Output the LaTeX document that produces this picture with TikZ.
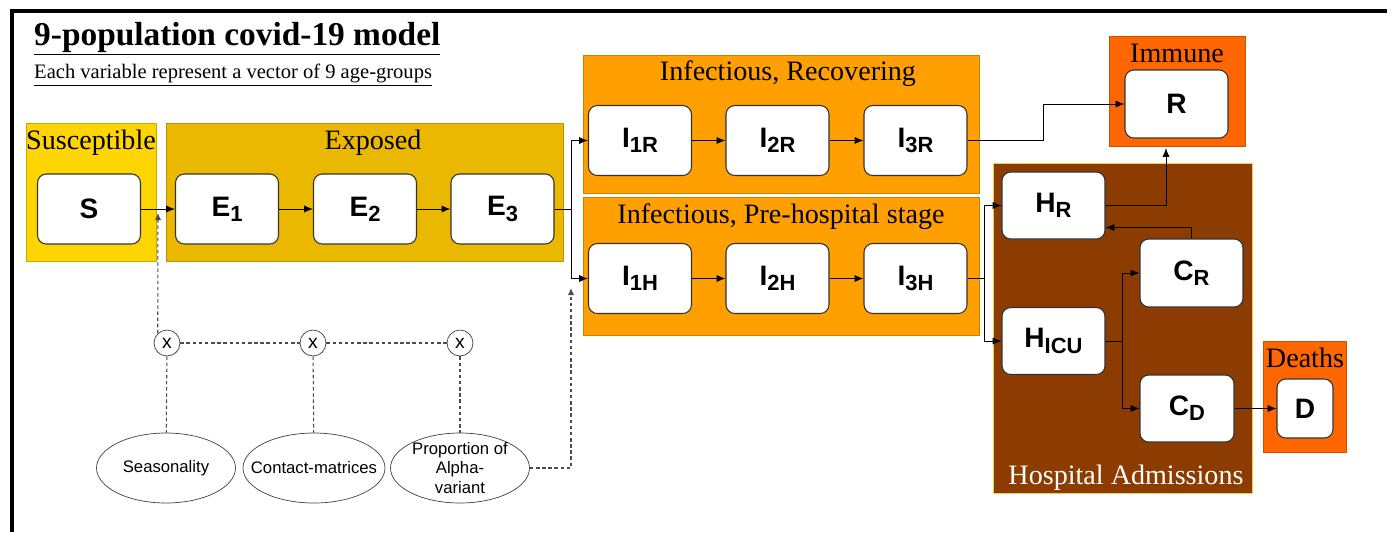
\documentclass[tikz,border=0pt]{standalone}
\usepackage{fontspec}
\setmainfont{Liberation Serif}
\setsansfont{Liberation Sans}
\usepackage{xcolor}
\usepackage{tikz}
\usetikzlibrary{arrows.meta, positioning, shapes.geometric, calc}
\definecolor{suscol}{HTML}{FFD500}
\definecolor{expcol}{HTML}{EBB800}
\definecolor{infcol}{HTML}{FFA000}
\definecolor{endcol}{HTML}{FF6600}
\definecolor{hospcol}{HTML}{8C3C00}
\newcommand{\idx}[1]{\raisebox{-3pt}{\fontsize{12.5}{12.5}\selectfont #1}}

\begin{document}
\begin{tikzpicture}[
      x=0.02cm, y=-0.02cm,
      box/.style={draw=black!80, fill=white, rounded corners=5pt, line width=0.6pt, minimum width=2.06cm, minimum height=1.4cm, inner sep=0pt, font=\sffamily\bfseries\fontsize{16}{16}\selectfont},
      grp/.style={fill=#1, draw=#1!80!black, line width=0.5pt, inner sep=0pt},
      lbl/.style={anchor=base, font=\fontsize{16}{18}\selectfont},
      arr/.style={-{Latex[length=5pt,width=4pt]}, line width=0.5pt},
      dots/.style={dash pattern=on 2pt off 1.5pt, line width=0.6pt, black!70},
      mult/.style={circle, draw=black!75, fill=white, minimum size=0.52cm, inner sep=0pt, font=\sffamily\fontsize{11}{11}\selectfont},
      src/.style={ellipse, draw=black!75, minimum width=2.78cm, minimum height=1.4cm, inner sep=0pt, label={[align=center, font=\sffamily\fontsize{9.5}{11}\selectfont]center:#1}}
    ]
      \useasboundingbox (0,0) rectangle (1394,532);
      \draw[line width=2.3pt] (1387,11) -- (12,11) -- (12,532);

      \node[anchor=base west, font=\bfseries\fontsize{19}{22}\selectfont] (title) at (28,45) {\underline{9-population covid-19 model}};
      \node[anchor=base west, font=\fontsize{11.7}{14}\selectfont] (subtitle) at (28,78) {\underline{Each variable represent a vector of 9 age-groups}};

      \node[grp=suscol, minimum width=2.6cm, minimum height=2.76cm] (susc) at (91,192) {};
      \node[grp=expcol, minimum width=7.94cm, minimum height=2.76cm] (expo) at (364.5,192) {};
      \node[grp=infcol, minimum width=7.92cm, minimum height=2.76cm] (infR) at (781,124) {};
      \node[grp=infcol, minimum width=7.92cm, minimum height=2.76cm] (infH) at (781,266) {};
      \node[grp=endcol, minimum width=2.72cm, minimum height=2.2cm] (immune) at (1177,91) {};
      \node[grp=hospcol, draw=expcol!70, minimum width=5.18cm, minimum height=6.6cm] (hosp) at (1122.5,328) {};
      \node[grp=endcol, minimum width=1.66cm, minimum height=2.22cm] (deaths) at (1304.5,396.5) {};

      \node[lbl] at (91,149) {Susceptible};
      \node[lbl] at (373,149) {Exposed};
      \node[lbl] at (788,80) {Infectious, Recovering};
      \node[lbl] at (781,223) {Infectious, Pre-hospital stage};
      \node[lbl] at (1177,62) {Immune};
      \node[lbl] at (1305,367) {Deaths};
      \node[lbl, white] at (1126,484) {Hospital Admissions};

      \node[box] (S) at (89,209) {S};
      \node[box] (E1) at (227,209) {E\idx{1}};
      \node[box] (E2) at (365,209) {E\idx{2}};
      \node[box] (E3) at (502.5,209) {E\idx{3}};
      \node[box] (I1R) at (640,140.5) {I\idx{1R}};
      \node[box] (I2R) at (777.5,140.5) {I\idx{2R}};
      \node[box] (I3R) at (915.5,140.5) {I\idx{3R}};
      \node[box] (I1H) at (640,278.5) {I\idx{1H}};
      \node[box] (I2H) at (777.5,278.5) {I\idx{2H}};
      \node[box] (I3H) at (915.5,278.5) {I\idx{3H}};
      \node[box, minimum height=1.36cm] (R) at (1176.5,104) {R};
      \node[box, minimum height=1.34cm] (HR) at (1053.5,205.5) {H\idx{R}};
      \node[box, minimum height=1.34cm] (HICU) at (1053.5,341) {H\idx{ICU}};
      \node[box, minimum height=1.36cm] (CR) at (1191.5,273) {C\idx{R}};
      \node[box, minimum width=1.88cm, minimum height=1.34cm] (CD) at (1187,408.5) {C\idx{D}};
      \node[box, minimum width=1.12cm, minimum height=1.18cm] (D) at (1305,408.5) {D};

      \node[mult] (m1) at (167,343) {x};
      \node[mult] (m2) at (313,343) {x};
      \node[mult] (m3) at (460,343) {x};
      \node[src={Seasonality}] (seas) at (166,468) {};
      \node[src={Contact-matrices}, minimum width=2.84cm] (cont) at (314,468) {};
      \node[src={Proportion of\\Alpha-\\variant}] (prop) at (460,468) {};

      \coordinate (sin) at (158,213);
      \coordinate (esplit) at (571,209);
      \coordinate (iin) at (571,288);
      \coordinate (rin) at (1166,148);

      \draw[arr] (S) -- (E1);
      \draw[arr] (E1) -- (E2);
      \draw[arr] (E2) -- (E3);
      \draw[arr] (E3.east) -- (esplit) |- (I1R.west);
      \draw[arr] (esplit) |- (I1H.west);
      \draw[arr] (I1R) -- (I2R);
      \draw[arr] (I2R) -- (I3R);
      \draw[arr] (I1H) -- (I2H);
      \draw[arr] (I2H) -- (I3H);
      \draw[arr] (I3R.east) -- ++(76,0) |- (R.west);
      \draw[arr] (I3H.east) -- ++(17,0) |- (HR.west);
      \draw[arr] (I3H.east) -- ++(17,0) |- (HICU.west);
      \draw[arr] (HR.east) -| (rin);
      \draw[arr] (CR.north) |- ($(HR.east)+(0,22)$);
      \draw[arr] (HICU.east) -- ++(17,0) |- (CR.west);
      \draw[arr] (HICU.east) -- ++(17,0) |- (CD.west);
      \draw[arr] (CD) -- (D);

      \draw[dots, -{Latex[length=4pt,width=3.5pt]}] (m1.134) -- (sin);
      \draw[dots] (m1) -- (m2);
      \draw[dots] (m2) -- (m3);
      \draw[dots] (m1) -- (seas);
      \draw[dots] (m2) -- (cont);
      \draw[dots] (m3) -- (prop);
      \draw[dots, -{Latex[length=4pt,width=3.5pt]}] (prop.east) -| (iin);
    \end{tikzpicture}
\end{document}
